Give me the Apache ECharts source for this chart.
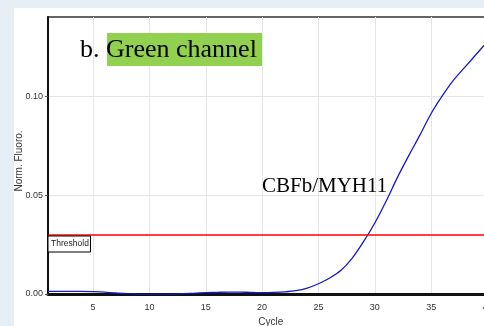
<!DOCTYPE html>
<html>
<head>
<meta charset="utf-8">
<script src="https://cdn.jsdelivr.net/npm/echarts@6/dist/echarts.min.js"></script>
<style>
html,body{margin:0;padding:0;background:#e8eef6;width:484px;height:326px;overflow:hidden;}
#c{position:absolute;left:14px;top:8px;width:470px;height:318px;background:#fff;}
</style>
</head>
<body>
<div id="c"></div>
<script>
const cycles = [1,2,3,4,5,6,7,8,9,10,11,12,13,14,15,16,17,18,19,20,21,22,23,24,25,26,27,28,29,30,31,32,33,34,35,36,37,38,39,40];
const fluoro = [0.0013,0.0013,0.0013,0.0013,0.0012,0.0010,0.0005,0.0002,0.0000,-0.0001,-0.0001,0.0000,0.0002,0.0004,0.0007,0.0008,0.0010,0.0010,0.0008,0.0007,0.0008,0.0011,0.0017,0.0030,0.0052,0.0081,0.0120,0.0182,0.0265,0.0360,0.0470,0.0590,0.0700,0.0805,0.0915,0.1005,0.1085,0.1150,0.1215,0.1280];
const xTicks = [5,10,15,20,25,30,35,40];
const yTicks = [0,0.05,0.10];
const threshold = 0.03;
const titleB = 'b. ';
const titleChannel = 'Green channel';
const targetLabel = 'CBFb/MYH11';
const thresholdLabel = 'Threshold';
const xName = 'Cycle';
const yName = 'Norm. Fluoro.';

const chart = echarts.init(document.getElementById('c'), null, {renderer:'canvas'});
const sans = 'Liberation Sans';
chart.setOption({
  animation:false,
  backgroundColor:'#fff',
  grid:{left:34,top:9,right:-3.5,bottom:32,outerBoundsMode:'none',containLabel:false,show:true,borderColor:'#333',borderWidth:1.5,backgroundColor:'transparent'},
  xAxis:{
    type:'value',min:1,max:40,
    name:xName,nameLocation:'middle',nameGap:23,
    nameTextStyle:{fontFamily:sans,fontSize:10,color:'#333',padding:[0,0,0,6]},
    axisLine:{show:true,onZero:false,lineStyle:{color:'#111',width:3}},
    axisTick:{show:false,customValues:xTicks},
    axisLabel:{customValues:xTicks,fontFamily:sans,fontSize:9,color:'#333',margin:9},
    splitLine:{show:true,lineStyle:{color:'#e6e6e6',width:1}}
  },
  yAxis:{
    type:'value',min:0,max:0.1404,
    axisLine:{show:true,onZero:false,lineStyle:{color:'#111',width:2}},
    axisTick:{show:true,customValues:yTicks,length:3,lineStyle:{color:'#555'}},
    axisLabel:{customValues:yTicks,formatter:v=>v.toFixed(2),fontFamily:sans,fontSize:9,color:'#333',margin:5},
    splitLine:{show:true,lineStyle:{color:'#e6e6e6',width:1}}
  },
  series:[{
    type:'line',
    data:cycles.map((c,i)=>[c,fluoro[i]]),
    smooth:0.3,
    showSymbol:false,
    lineStyle:{color:'#1818cc',width:1.3},
    markLine:{
      silent:true,symbol:['none','none'],label:{show:false},
      lineStyle:{color:'#ff0000',width:1.5,type:'solid'},
      data:[{yAxis:threshold}]
    }
  }],
  graphic:[
    {type:'rect',shape:{x:93,y:25,width:155,height:33},style:{fill:'#92d050'},z:10},
    {type:'text',x:66,y:42,style:{text:titleB+titleChannel,font:'26px "Liberation Serif"',fill:'#000',textVerticalAlign:'middle',textAlign:'left'},z:11},
    {type:'text',x:248,y:178,style:{text:targetLabel,font:'21px "Liberation Serif"',fill:'#000',textVerticalAlign:'middle',textAlign:'left'},z:11},
    {type:'rect',shape:{x:34,y:228,width:42.5,height:16},style:{fill:'#fff',stroke:'#000',lineWidth:1},z:10},
    {type:'text',x:56,y:236,style:{text:thresholdLabel,font:'8.5px "Liberation Sans"',fill:'#222',textVerticalAlign:'middle',textAlign:'center'},z:11},
    {type:'text',x:5,y:153,rotation:Math.PI/2,style:{text:yName,font:'10px "Liberation Sans"',fill:'#333',textVerticalAlign:'middle',textAlign:'center'},z:11}
  ]
});
</script>
</body>
</html>
